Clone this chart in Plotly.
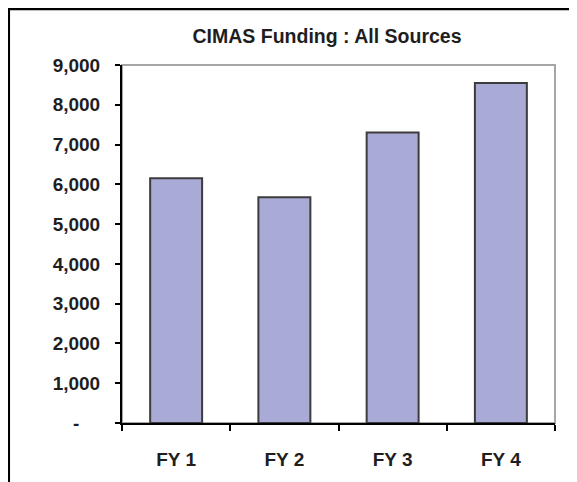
import plotly.graph_objects as go

categories = ["FY 1", "FY 2", "FY 3", "FY 4"]
funding = [6150, 5675, 7300, 8550]

y_tickvals = [0, 1000, 2000, 3000, 4000, 5000, 6000, 7000, 8000, 9000]
y_ticktext = ["", "1,000", "2,000", "3,000", "4,000",
              "5,000", "6,000", "7,000", "8,000", "9,000"]
zero_label = "-"

title_text = "CIMAS Funding : All Sources"

FONT = "Arial, Liberation Sans, sans-serif"
W, H = 569, 474  # page body adds an 8px margin
L, R, T, B = 114, 22, 57, 57
pw, ph = W - L - R, H - T - B

fig = go.Figure()
fig.add_trace(
    go.Bar(
        x=categories,
        y=funding,
        marker=dict(color="#a9aad6", line=dict(color="#3c3c3c", width=2)),
        showlegend=False,
    )
)

# plot area frame (grey), axes lines drawn on top
fig.add_shape(type="rect", xref="paper", yref="paper", x0=0, x1=1, y0=0, y1=1,
              line=dict(color="#a6a6a6", width=2), layer="below")
# outer chart border, only left and top edges show
fig.add_shape(type="rect", xref="paper", yref="paper",
              x0=(0.8 - L) / pw, x1=1.4, y0=-0.4, y1=(ph + T - 0.8) / ph,
              line=dict(color="black", width=2.5), layer="below")

# excel accounting format puts the zero dash further left than the numbers
fig.add_annotation(
    text=zero_label, xref="paper", yref="y", x=(68 - L) / pw, y=y_tickvals[0],
    xanchor="center", yanchor="middle", showarrow=False,
    font=dict(family=FONT, size=19, weight="bold", color="#1e1e1e"),
)

fig.update_layout(
    width=W,
    height=H,
    margin=dict(l=L, r=R, t=T, b=B),
    paper_bgcolor="white",
    plot_bgcolor="white",
    bargap=0.52,
    font=dict(family=FONT, color="#1e1e1e"),
    title=dict(
        text=title_text,
        x=319 / W,
        xanchor="center",
        xref="container",
        y=1 - 28 / H,
        yanchor="middle",
        yref="container",
        font=dict(family=FONT, size=19.5, weight="bold", color="#1e1e1e"),
    ),
    xaxis=dict(
        showline=True,
        linecolor="black",
        linewidth=2,
        ticks="outside",
        tickson="boundaries",
        ticklen=6,
        tickwidth=2,
        tickcolor="black",
        showgrid=False,
        ticklabelstandoff=18,
        tickfont=dict(family=FONT, size=19, weight="bold", color="#1e1e1e"),
    ),
    yaxis=dict(
        range=[0, 9000],
        tickvals=y_tickvals,
        ticktext=y_ticktext,
        showline=True,
        linecolor="black",
        linewidth=2,
        ticks="outside",
        ticklen=5,
        tickwidth=2,
        tickcolor="black",
        showgrid=False,
        zeroline=False,
        ticklabelstandoff=11,
        tickfont=dict(family=FONT, size=19, weight="bold", color="#1e1e1e"),
    ),
)

fig.write_html("out.html")
